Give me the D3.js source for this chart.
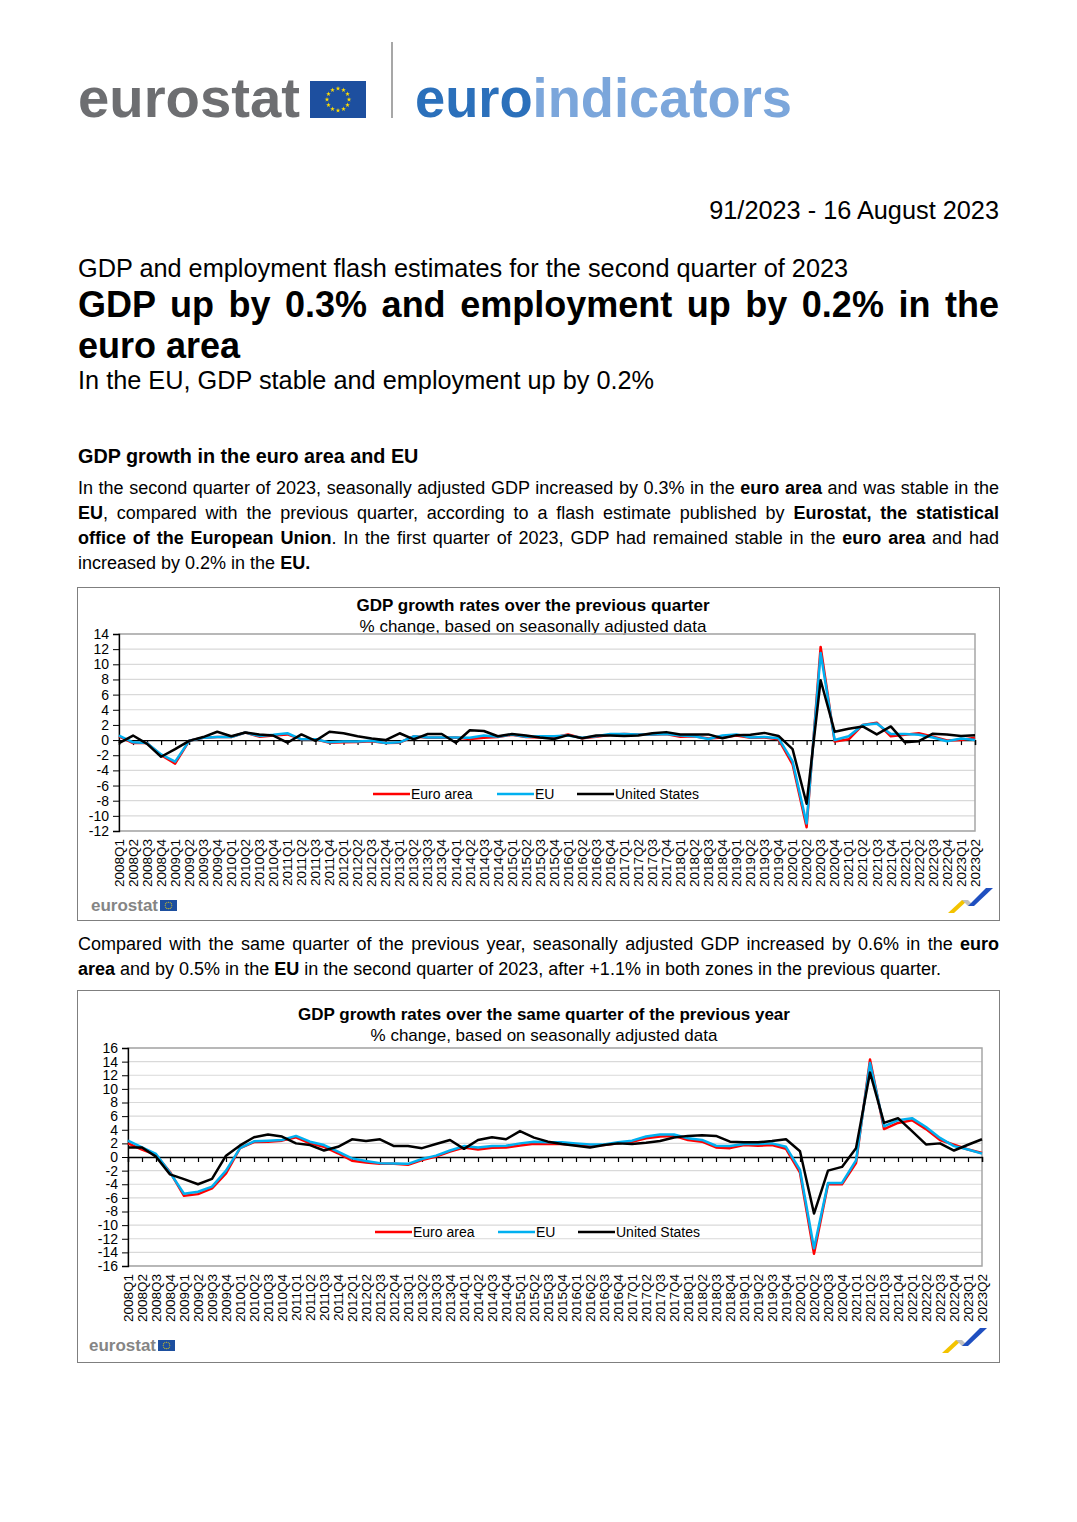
<!DOCTYPE html>
<html>
<head>
<meta charset="utf-8">
<script src="https://cdn.jsdelivr.net/npm/d3@7"></script>
<style>
body{margin:0;background:#fff;}
#page{position:relative;width:1077px;height:1522px;font-family:"Liberation Sans",Arial,sans-serif;color:#000;overflow:hidden;}
#page svg{position:absolute;left:0;top:0;}
.ln{position:absolute;left:78px;width:921px;font-size:18px;line-height:25px;height:25px;}
.j{text-align:justify;text-align-last:justify;}
.title{position:absolute;left:78px;width:921px;font-size:36px;line-height:41px;height:41px;font-weight:bold;}
</style>
</head>
<body>
<div id="page"></div>
<script>
// ---------- DATA ----------
const quarters = [
"2008Q1","2008Q2","2008Q3","2008Q4","2009Q1","2009Q2","2009Q3","2009Q4",
"2010Q1","2010Q2","2010Q3","2010Q4","2011Q1","2011Q2","2011Q3","2011Q4",
"2012Q1","2012Q2","2012Q3","2012Q4","2013Q1","2013Q2","2013Q3","2013Q4",
"2014Q1","2014Q2","2014Q3","2014Q4","2015Q1","2015Q2","2015Q3","2015Q4",
"2016Q1","2016Q2","2016Q3","2016Q4","2017Q1","2017Q2","2017Q3","2017Q4",
"2018Q1","2018Q2","2018Q3","2018Q4","2019Q1","2019Q2","2019Q3","2019Q4",
"2020Q1","2020Q2","2020Q3","2020Q4","2021Q1","2021Q2","2021Q3","2021Q4",
"2022Q1","2022Q2","2022Q3","2022Q4","2023Q1","2023Q2"];

// % change over previous quarter
const qoqEuroArea = [0.5,-0.4,-0.4,-2.0, -3.1,-0.1,0.3,0.4, 0.4,1.0,0.45,0.6, 0.75,0.1,0.1,-0.35,
 -0.3,-0.25,-0.15,-0.4, -0.35,0.5,0.3,0.3, 0.35,0.15,0.3,0.4, 0.7,0.4,0.35,0.35,
 0.75,0.25,0.45,0.7, 0.8,0.75,0.7,0.8, 0.45,0.5,0.2,0.35, 0.6,0.3,0.35,0.1,
 -3.2,-11.5,12.3,-0.2, 0.1,2.0,2.3,0.5, 0.7,0.9,0.45,-0.05, 0.0,0.3];
const qoqEU = [0.6,-0.3,-0.4,-1.9, -2.85,-0.1,0.3,0.4, 0.4,1.0,0.55,0.7, 0.9,0.1,0.1,-0.3,
 -0.2,-0.2,-0.1,-0.4, -0.3,0.5,0.35,0.35, 0.35,0.3,0.6,0.45, 0.75,0.45,0.5,0.5,
 0.6,0.3,0.5,0.8, 0.8,0.75,0.75,0.8, 0.6,0.5,0.15,0.6, 0.75,0.35,0.4,0.25,
 -2.8,-11.0,11.5,0.0, 0.5,2.0,2.2,0.8, 0.8,0.7,0.35,-0.15, 0.2,0.0];
const qoqUS = [-0.4,0.6,-0.5,-2.2, -1.2,-0.1,0.4,1.1, 0.5,1.0,0.75,0.6, -0.35,0.75,-0.1,1.1,
 0.9,0.5,0.2,0.0, 0.9,0.1,0.8,0.8, -0.35,1.3,1.2,0.5, 0.8,0.6,0.35,0.15,
 0.65,0.25,0.6,0.6, 0.55,0.6,0.9,1.05, 0.75,0.75,0.75,0.25, 0.65,0.7,0.95,0.55,
 -1.2,-8.4,7.9,1.1, 1.5,1.8,0.75,1.8, -0.3,-0.15,0.85,0.75, 0.55,0.65];

// % change over same quarter of previous year
const yoyEuroArea = [2.0,1.1,0.3,-2.2, -5.7,-5.45,-4.6,-2.4, 1.3,2.2,2.25,2.4, 2.9,2.0,1.5,0.55,
 -0.55,-0.8,-1.0,-1.0, -1.15,-0.45,0.05,0.8, 1.4,1.1,1.35,1.4, 1.7,1.95,1.9,1.9,
 1.75,1.65,1.75,2.0, 2.25,2.75,3.0,3.1, 2.5,2.25,1.4,1.3, 1.75,1.65,1.75,1.2,
 -2.3,-14.2,-4.0,-4.0, -0.9,14.3,4.1,5.0, 5.4,4.1,2.5,1.8, 1.1,0.6];
const yoyEU = [2.4,1.4,0.45,-2.3, -5.4,-5.1,-4.35,-2.0, 1.3,2.3,2.4,2.5, 3.1,2.25,1.75,0.8,
 -0.2,-0.6,-0.9,-0.95, -1.0,-0.3,0.2,0.95, 1.6,1.4,1.6,1.65, 2.0,2.25,2.15,2.15,
 2.0,1.85,1.85,2.15, 2.4,3.0,3.3,3.3, 2.75,2.5,1.65,1.6, 1.9,1.9,2.0,1.5,
 -1.9,-13.4,-3.8,-3.8, -0.5,13.8,4.5,5.4, 5.7,4.4,2.8,1.6, 1.1,0.5];
const yoyUS = [1.4,1.4,0.05,-2.55, -3.25,-4.0,-3.2,0.2, 1.7,2.9,3.3,3.0, 2.0,1.75,0.95,1.5,
 2.6,2.35,2.6,1.6, 1.6,1.3,1.9,2.5, 1.2,2.5,2.9,2.6, 3.8,2.85,2.25,1.9,
 1.65,1.4,1.75,2.0, 1.9,2.1,2.35,2.85, 3.1,3.2,3.1,2.25, 2.15,2.15,2.35,2.6,
 0.85,-8.3,-2.0,-1.45, 1.3,12.4,5.0,5.7, 3.8,1.85,2.0,0.95, 1.8,2.6];

const qoqTicks = [14,12,10,8,6,4,2,0,-2,-4,-6,-8,-10,-12];
const yoyTicks = [16,14,12,10,8,6,4,2,0,-2,-4,-6,-8,-10,-12,-14,-16];
const seriesNames = ["Euro area","EU","United States"];
const seriesColors = ["#ff0000","#00b0f0","#000000"];

// ---------- PAGE ----------
const page = d3.select("#page");
const svg = page.append("svg").attr("width",1077).attr("height",1522)
  .style("font-family","'Liberation Sans',Arial,sans-serif");

// Header logo
svg.append("text").attr("x",78).attr("y",117).attr("font-size",56).attr("font-weight","bold")
  .attr("fill","#6d6e71").attr("textLength",222).attr("lengthAdjust","spacingAndGlyphs").text("eurostat");
function euFlag(g, x, y, w, h, r, starSize){
  g.append("rect").attr("x",x).attr("y",y).attr("width",w).attr("height",h).attr("fill","#1d4f9f");
  const cx = x + w/2, cy = y + h/2;
  for(let i=0;i<12;i++){
    const a = i*Math.PI/6;
    g.append("path").attr("d",d3.symbol(d3.symbolStar, starSize)())
      .attr("transform",`translate(${cx+r*Math.sin(a)},${cy-r*Math.cos(a)})`).attr("fill","#ffdd00");
  }
}
euFlag(svg, 310, 81, 56, 37, 11, 7);
svg.append("line").attr("x1",392).attr("x2",392).attr("y1",42).attr("y2",118)
  .attr("stroke","#8a8a8a").attr("stroke-width",1.5);
const ei = svg.append("text").attr("x",415).attr("y",117).attr("font-size",55).attr("font-weight","bold")
  .attr("textLength",377).attr("lengthAdjust","spacingAndGlyphs");
ei.append("tspan").attr("fill","#2b70bb").text("euro");
ei.append("tspan").attr("fill","#7ba6db").text("indicators");

// header texts
svg.append("text").attr("x",999).attr("y",219).attr("text-anchor","end").attr("font-size",25.3).text("91/2023 - 16 August 2023");
svg.append("text").attr("x",78).attr("y",277).attr("font-size",25.3).text("GDP and employment flash estimates for the second quarter of 2023");
svg.append("text").attr("x",78).attr("y",389).attr("font-size",25.3).text("In the EU, GDP stable and employment up by 0.2%");
svg.append("text").attr("x",78).attr("y",463).attr("font-size",19.8).attr("font-weight","bold").text("GDP growth in the euro area and EU");

const titleLines = ["GDP up by 0.3% and employment up by 0.2% in the", "euro area"];
titleLines.forEach((t,i)=>{
  page.append("div").attr("class","title" + (i<titleLines.length-1 ? " j" : ""))
    .style("top",(283.6 + i*41)+"px").text(t);
});

const para1 = [
 'In the second quarter of 2023, seasonally adjusted GDP increased by 0.3% in the <b>euro area</b> and was stable in the',
 '<b>EU</b>, compared with the previous quarter, according to a flash estimate published by <b>Eurostat, the statistical</b>',
 '<b>office of the European Union</b>. In the first quarter of 2023, GDP had remained stable in the <b>euro area</b> and had',
 'increased by 0.2% in the <b>EU.</b>'];
const para2 = [
 'Compared with the same quarter of the previous year, seasonally adjusted GDP increased by 0.6% in the <b>euro</b>',
 '<b>area</b> and by 0.5% in the <b>EU</b> in the second quarter of 2023, after +1.1% in both zones in the previous quarter.'];
function para(lines, top){
  lines.forEach((t,i)=>{
    page.append("div").attr("class","ln" + (i<lines.length-1 ? " j" : ""))
      .style("top",(top + i*25)+"px").html(t);
  });
}
para(para1, 475.6);
para(para2, 931.6);

// ---------- CHART ----------
function drawChart(cfg){
  const g = svg.append("g");
  g.append("rect").attr("x",cfg.box[0]+0.5).attr("y",cfg.box[1]+0.5).attr("width",cfg.box[2]).attr("height",cfg.box[3])
    .attr("fill","#fff").attr("stroke","#7f7f7f").attr("stroke-width",1);
  g.append("text").attr("x",cfg.cx).attr("y",cfg.titleY).attr("text-anchor","middle").attr("font-size",17)
    .attr("font-weight","bold").text(cfg.title);
  g.append("text").attr("x",cfg.cx).attr("y",cfg.titleY+21).attr("text-anchor","middle").attr("font-size",17)
    .text("% change, based on seasonally adjusted data");

  const x = d3.scalePoint().domain(quarters).range([cfg.l, cfg.r]);
  const y = d3.scaleLinear().domain(cfg.domain).range([cfg.b, cfg.t]);

  // gridlines
  g.append("g").selectAll("line").data(cfg.ticks.filter(t=>t!==0))
    .join("line").attr("x1",cfg.l).attr("x2",cfg.r).attr("y1",d=>y(d)).attr("y2",d=>y(d))
    .attr("stroke","#d9d9d9").attr("stroke-width",1.2);
  // plot border
  g.append("rect").attr("x",cfg.l).attr("y",y(cfg.domain[1])).attr("width",cfg.r-cfg.l).attr("height",y(cfg.domain[0])-y(cfg.domain[1]))
    .attr("fill","none").attr("stroke","#a6a6a6").attr("stroke-width",1.5);

  // y axis
  const ya = g.append("g").attr("transform",`translate(${cfg.l},0)`)
    .call(d3.axisLeft(y).tickValues(cfg.ticks).tickSize(6).tickPadding(4).tickFormat(d=>String(d)));
  ya.select(".domain").attr("stroke","#000").attr("stroke-width",1.3);
  ya.selectAll(".tick line").attr("stroke","#000");
  ya.selectAll("text").attr("font-size",14).attr("font-family","'Liberation Sans',Arial,sans-serif").attr("fill","#000");

  // zero line with category ticks
  const xa = g.append("g").attr("transform",`translate(0,${y(0)})`)
    .call(d3.axisBottom(x).tickSize(5).tickFormat(""));
  xa.select(".domain").attr("stroke","#000").attr("stroke-width",1.4);
  xa.selectAll(".tick line").attr("stroke","#000").attr("stroke-width",1.2);

  // x labels
  g.append("g").selectAll("text").data(quarters).join("text")
    .attr("transform",d=>`translate(${x(d)},${cfg.b+8}) rotate(-90)`)
    .attr("text-anchor","end").attr("dy","0.35em").attr("font-size",13.5).text(d=>d);

  // lines
  const line = d3.line().x((d,i)=>x(quarters[i])).y(d=>y(d));
  cfg.series.forEach((s,k)=>{
    g.append("path").datum(s).attr("d",line).attr("fill","none")
      .attr("stroke",seriesColors[k]).attr("stroke-width",2.5).attr("stroke-linejoin","round");
  });

  // legend
  seriesNames.forEach((n,k)=>{
    const lx = cfg.legendX[k];
    g.append("line").attr("x1",lx).attr("x2",lx+37).attr("y1",cfg.legendY).attr("y2",cfg.legendY)
      .attr("stroke",seriesColors[k]).attr("stroke-width",2.5);
    g.append("text").attr("x",lx+38).attr("y",cfg.legendY).attr("dy","0.35em").attr("font-size",14).text(n);
  });

  // small eurostat logo
  g.append("text").attr("x",cfg.logo[0]).attr("y",cfg.logo[1]).attr("font-size",16).attr("font-weight","bold")
    .attr("fill","#858585").attr("textLength",67).attr("lengthAdjust","spacingAndGlyphs").text("eurostat");
  euFlag(g, cfg.logo[0]+69, cfg.logo[1]-11, 17, 11, 3.3, 0.8);

  // zig-zag icon
  const [ix, iy] = cfg.icon;
  g.append("path").attr("d",`M${ix},${iy} L${ix+14},${iy-13} L${ix+20},${iy-13} L${ix+6},${iy} Z`).attr("fill","#f3c300");
  g.append("path").attr("d",`M${ix+14},${iy-13} L${ix+20},${iy-13} L${ix+26},${iy-7} L${ix+20},${iy-7} Z`).attr("fill","#c0c0c0");
  g.append("path").attr("d",`M${ix+20},${iy-7} L${ix+26},${iy-7} L${ix+45},${iy-25} L${ix+38},${iy-25} Z`).attr("fill","#1f4fc0");
}

drawChart({
  box:[77,587,922,333], cx:533, titleY:611,
  title:"GDP growth rates over the previous quarter",
  l:119, r:975, t:634, b:831, domain:[-12,14], ticks:qoqTicks,
  series:[qoqEuroArea, qoqEU, qoqUS],
  legendX:[373,497,577], legendY:794,
  logo:[91,911], icon:[948,913]
});
drawChart({
  box:[77,990,922,372], cx:544, titleY:1020,
  title:"GDP growth rates over the same quarter of the previous year",
  l:128, r:982, t:1048, b:1266, domain:[-16,16], ticks:yoyTicks,
  series:[yoyEuroArea, yoyEU, yoyUS],
  legendX:[375,498,578], legendY:1232,
  logo:[89,1351], icon:[942,1353]
});
</script>
</body>
</html>
